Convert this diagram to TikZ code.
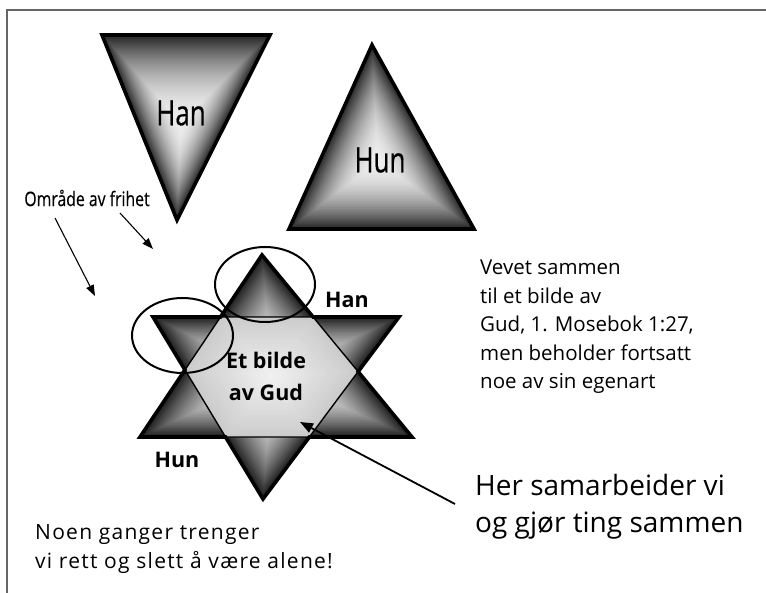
\documentclass[tikz,border=0pt]{standalone}
\usepackage{fontspec}
\setmainfont{Open Sans}
\newfontfamily\smal[FakeStretch=0.74,FakeBold=0.5]{Open Sans}
\newfontfamily\omr[FakeStretch=0.79,FakeBold=0.3]{Open Sans}
\newfontfamily\spred[LetterSpace=6]{Open Sans}
\usetikzlibrary{calc,arrows.meta}

\newcommand\burst[5]{%
  \foreach \i in {0,...,39}{
    \pgfmathsetmacro\s{1-\i/40}
    \pgfmathsetmacro\c{#5*\s*\s+7*(1-\s*\s)}
    \fill[black!\c] ($(#1)!\s!(#2)$) -- ($(#1)!\s!(#3)$) -- ($(#1)!\s!(#4)$) -- cycle;
  }}

\begin{document}
\begin{tikzpicture}
[x=1pt,y=-1pt,
 tri/.style={line width=3.6pt},
 hex/.style={line width=1.4pt},
 ring/.style={line width=2pt},
 pil/.style={-{Triangle[length=11pt,width=8pt]},line width=1.1pt},
 pilB/.style={-{Triangle[length=13pt,width=10pt]},line width=1.8pt},
 big/.style={inner sep=0pt,font=\smal\fontsize{35}{40}\selectfont},
 lbl/.style={inner sep=0pt,font=\bfseries\fontsize{21.5}{32}\selectfont},
 txt/.style={inner sep=0pt,align=left,font=\fontsize{20.5}{28.5}\selectfont}]
\useasboundingbox (0,0) rectangle (766,593);
\draw[line width=1.5pt,black!60] (7,593) -- (7,10) -- (766,10);

\coordinate (hanA) at (102,35);
\coordinate (hanB) at (270,35);
\coordinate (hanC) at (177,220);
\coordinate (hanM) at (181,122);
\burst{hanM}{hanA}{hanB}{hanC}{85}
\draw[tri] (hanA) -- (hanB) -- (hanC) -- cycle;
\node[big] (han) at (181,113) {Han};

\coordinate (hunA) at (372,45);
\coordinate (hunB) at (289,229);
\coordinate (hunC) at (474,229);
\coordinate (hunM) at (378,162);
\burst{hunM}{hunA}{hunB}{hunC}{85}
\draw[tri] (hunA) -- (hunB) -- (hunC) -- cycle;
\node[big] (hun) at (380,160) {Hun};

\coordinate (upA) at (262,255);
\coordinate (upB) at (140,437);
\coordinate (upC) at (412,437);
\coordinate (dnA) at (153,317);
\coordinate (dnB) at (399,317);
\coordinate (dnC) at (263,499);
\coordinate (midt) at (272,376);
\coordinate (h1) at (intersection of upA--upB and dnA--dnB);
\coordinate (h2) at (intersection of upA--upC and dnA--dnB);
\coordinate (h3) at (intersection of upA--upC and dnB--dnC);
\coordinate (h4) at (intersection of upB--upC and dnB--dnC);
\coordinate (h5) at (intersection of upB--upC and dnA--dnC);
\coordinate (h6) at (intersection of upA--upB and dnA--dnC);
\burst{midt}{upA}{upB}{upC}{88}
\burst{midt}{dnA}{dnB}{dnC}{88}
\foreach \i in {0,...,19}{
  \pgfmathsetmacro\s{1-\i/20}
  \pgfmathsetmacro\c{20*\s+5*(1-\s)}
  \fill[black!\c] ($(midt)!\s!(h1)$) -- ($(midt)!\s!(h2)$) -- ($(midt)!\s!(h3)$)
    -- ($(midt)!\s!(h4)$) -- ($(midt)!\s!(h5)$) -- ($(midt)!\s!(h6)$) -- cycle;
}
\draw[hex] (h1) -- (h2) -- (h3) -- (h4) -- (h5) -- (h6) -- cycle;
\draw[tri] (upA) -- (h2) -- (dnB) -- (h3) -- (upC) -- (h4) -- (dnC) -- (h5)
  -- (upB) -- (h6) -- (dnA) -- (h1) -- cycle;
\node[lbl] (hanlbl) at (347,300) {Han};
\node[lbl] (hunlbl) at (177,460) {Hun};
\node[lbl,align=center] (gud) at (266,376) {Et bilde\\av Gud};

\draw[ring] (265,284.5) ellipse [x radius=50, y radius=37.5];
\draw[ring] (182.5,335.5) ellipse [x radius=50.5, y radius=37.5];

\node[inner sep=0pt,font=\omr\fontsize{20}{24}\selectfont] (omr) at (87,198) {Område av frihet};
\coordinate (o1) at (55,218);
\coordinate (o2) at (120,213);
\coordinate (r1) at (95,296);
\coordinate (r2) at (153,249);
\draw[pil] (o1) -- (r1);
\draw[pil] (o2) -- (r2);

\node[txt,anchor=west] (vevet) at (480,327) {Vevet sammen\\til et bilde av\\Gud, 1. Mosebok 1:27,\\men beholder fortsatt\\noe av sin egenart};
\node[txt,anchor=west,font=\fontsize{28}{37}\selectfont] (samarb) at (475,507) {Her samarbeider vi\\og gjør ting sammen};
\node[txt,anchor=west,font=\spred\fontsize{21}{29}\selectfont] (alene) at (35,549) {Noen ganger trenger\\vi rett og slett å være alene!};
\coordinate (gudpil) at (300,422);
\draw[pilB] ([xshift=-20pt,yshift=3pt]samarb.west) -- (gudpil);
\end{tikzpicture}
\end{document}
